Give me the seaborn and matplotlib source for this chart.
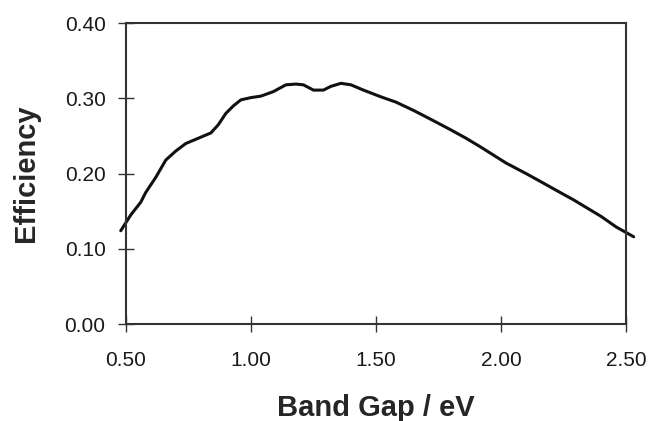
import matplotlib
matplotlib.use('Agg')
import matplotlib.pyplot as plt
import seaborn as sns
import pandas as pd

# values
band_gap = [0.48, 0.52, 0.56, 0.58, 0.62, 0.66, 0.70, 0.74, 0.79, 0.84, 0.87,
            0.90, 0.93, 0.96, 1.00, 1.04, 1.09, 1.14, 1.18, 1.21, 1.25, 1.29,
            1.32, 1.36, 1.40, 1.45, 1.52, 1.58, 1.65, 1.72, 1.80, 1.86, 1.92,
            2.02, 2.10, 2.16, 2.23, 2.29, 2.34, 2.40, 2.46, 2.53]
efficiency = [0.124, 0.145, 0.162, 0.175, 0.195, 0.218, 0.230, 0.240, 0.247, 0.254, 0.265,
              0.280, 0.290, 0.298, 0.301, 0.303, 0.309, 0.318, 0.319, 0.318, 0.311, 0.311,
              0.316, 0.320, 0.318, 0.311, 0.302, 0.295, 0.284, 0.272, 0.258, 0.247, 0.235,
              0.214, 0.200, 0.189, 0.176, 0.165, 0.155, 0.143, 0.129, 0.116]
x_ticks = [0.5, 1.0, 1.5, 2.0, 2.5]
y_ticks = [0.0, 0.1, 0.2, 0.3, 0.4]

df = pd.DataFrame({'Band Gap': band_gap, 'Efficiency': efficiency})

sns.set_style('white')
plt.rcParams['font.family'] = ['Liberation Sans', 'DejaVu Sans']

fig = plt.figure(figsize=(6.55, 4.21), dpi=100)
ax = fig.add_axes([0.192, 0.2304, 0.764, 0.7146])

sns.lineplot(data=df, x='Band Gap', y='Efficiency', ax=ax, color='#111111',
             linewidth=2.2, clip_on=False)

ax.set_xlim(0.5, 2.5)
ax.set_ylim(0.0, 0.4)
ax.set_xticks(x_ticks)
ax.set_yticks(y_ticks)
ax.set_xticklabels([f'{v:.2f}' for v in x_ticks], fontsize=15, color='#1a1a1a')
ax.set_yticklabels([f'{v:.2f}' for v in y_ticks], fontsize=15, color='#1a1a1a')
ax.tick_params(bottom=True, left=True, direction='inout', length=11,
               width=1.0, color='#333333')
ax.tick_params(axis='x', pad=14)
ax.tick_params(axis='y', pad=9)

for s in ax.spines.values():
    s.set_color('#333333')
    s.set_linewidth(1.5)

ax.set_xlabel('Band Gap / eV', fontsize=21, fontweight='bold', labelpad=17)
ax.set_ylabel('Efficiency', fontsize=21, fontweight='bold', labelpad=18)

fig.savefig('out.png', dpi=100)
